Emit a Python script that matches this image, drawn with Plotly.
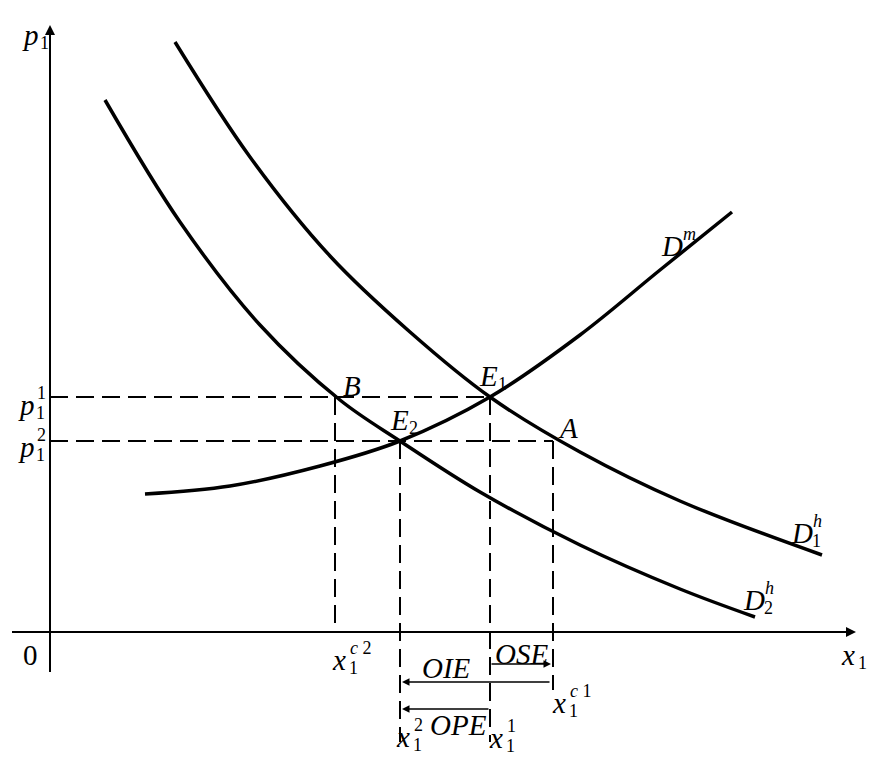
import plotly.graph_objects as go

# curves (x, y) in diagram units (y measured downward like the figure)
d2h_x = [105, 180, 260, 340, 400, 480, 580, 680, 755]
d2h_y = [100, 222, 325, 400, 441, 492, 545, 589, 617]
d1h_x = [175, 250, 330, 410, 490, 580, 680, 822]
d1h_y = [42, 157, 256, 332, 397, 452, 501, 555]
dm_x = [145, 230, 320, 400, 490, 580, 660, 732]
dm_y = [494, 486, 466, 441, 397, 335, 270, 212]

origin_x, origin_y = 50, 632
p1_y, p2_y = 397, 441
xc2, x2, x1, xc1 = 335, 400, 490, 553

FONT = dict(family="Liberation Serif", size=29, color="black")
SMALL = dict(family="Liberation Serif", size=18, color="black")

fig = go.Figure()
line = dict(color="black", width=3.5)
for xs, ys in [(d2h_x, d2h_y), (d1h_x, d1h_y), (dm_x, dm_y)]:
    fig.add_trace(go.Scatter(x=xs, y=ys, mode="lines", line=dict(line, shape="spline", smoothing=1.0),
                             showlegend=False, hoverinfo="skip"))

dash = dict(color="black", width=2, dash="18px,8px")
for xs, ys in [([origin_x, x1], [p1_y, p1_y]), ([origin_x, xc1], [p2_y, p2_y]),
               ([xc2, xc2], [p1_y, origin_y]), ([x2, x2], [p2_y, 742]),
               ([x1, x1], [p1_y, 742]), ([xc1, xc1], [p2_y, 690])]:
    fig.add_trace(go.Scatter(x=xs, y=ys, mode="lines", line=dash, showlegend=False, hoverinfo="skip"))

# axes
fig.add_trace(go.Scatter(x=[origin_x, origin_x], y=[672, 30], mode="lines",
                         line=dict(color="black", width=2), showlegend=False, hoverinfo="skip"))
fig.add_trace(go.Scatter(x=[12, 850], y=[origin_y, origin_y], mode="lines",
                         line=dict(color="black", width=2), showlegend=False, hoverinfo="skip"))
fig.add_annotation(x=origin_x, y=25, ax=origin_x, ay=60, xref="x", yref="y", axref="x", ayref="y",
                   text="", showarrow=True, arrowhead=2, arrowwidth=2, arrowsize=1, arrowcolor="black")
fig.add_annotation(x=856, y=origin_y, ax=820, ay=origin_y, xref="x", yref="y", axref="x", ayref="y",
                   text="", showarrow=True, arrowhead=2, arrowwidth=2, arrowsize=1, arrowcolor="black")

# effect arrows
for xa, xb, yy in [(x1, xc1 - 2, 664), (xc1 - 2, x2 + 2, 682), (x1, x2 + 2, 709)]:
    fig.add_annotation(x=xb, y=yy, ax=xa, ay=yy, xref="x", yref="y", axref="x", ayref="y",
                       text="", showarrow=True, arrowhead=2, arrowwidth=1.5, arrowsize=1,
                       arrowcolor="black")

# (x, y, text, sup, sub)
labels = [
    (30, 35, "p", None, "1"), (30, 655, "0", None, None), (848, 655, "x", None, "1"),
    (26, 405, "p", "1", "1"), (26, 447, "p", "2", "1"),
    (352, 386, "B", None, None), (488, 376, "E", None, "1"), (399, 420, "E", None, "2"),
    (568, 428, "A", None, None), (672, 246, "D", "<i>m</i>", None),
    (802, 533, "D", "<i>h</i>", "1"), (754, 600, "D", "<i>h</i>", "2"),
    (339, 660, "x", "<i>c</i> 2", "1"), (559, 703, "x", "<i>c</i> 1", "1"),
    (403, 737, "x", "2", "1"), (496, 738, "x", "1", "1"),
    (446, 668, "OIE", None, None), (521, 654, "OSE", None, None), (458, 725, "OPE", None, None),
]
for lx, ly, t, sup, sub in labels:
    txt = t if t == "0" else "<i>%s</i>" % t
    fig.add_annotation(x=lx, y=ly, text=txt, showarrow=False, font=FONT, xref="x", yref="y")
    if sup:
        fig.add_annotation(x=lx + 9, y=ly - 12, text=sup, showarrow=False, font=SMALL,
                           xref="x", yref="y", xanchor="left")
    if sub:
        fig.add_annotation(x=lx + 8, y=ly + 8, text=sub, showarrow=False, font=SMALL,
                           xref="x", yref="y", xanchor="left")

# page body adds an 8px offset, so shift the view by 8
fig.update_xaxes(range=[8, 892], visible=False)
fig.update_yaxes(range=[776, 8], visible=False)
fig.update_layout(width=884, height=768, margin=dict(l=0, r=0, t=0, b=0),
                  plot_bgcolor="white", paper_bgcolor="white")
fig.write_html("out.html")
